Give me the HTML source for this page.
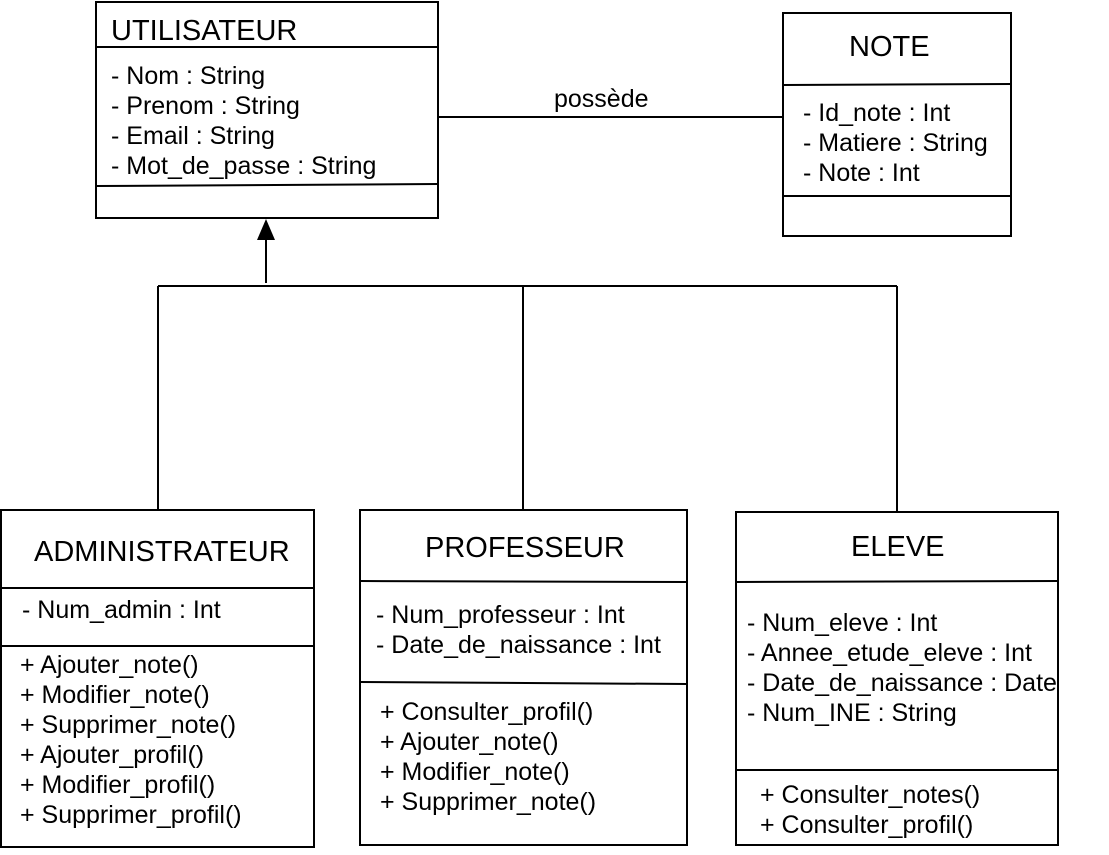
<!DOCTYPE html>
<html><head><meta charset="utf-8"><style>
html,body{margin:0;padding:0;background:#fff;}
svg{display:block;}
text{font-family:"Liberation Sans",Arial,sans-serif;fill:#000;dominant-baseline:central;}
.a{font-size:25px;}
.t{font-size:29px;}
</style></head><body>
<svg width="1109" height="855" viewBox="0 0 1109 855" xmlns="http://www.w3.org/2000/svg">
<g fill="none" stroke="#000" stroke-width="2">
<rect x="96" y="2" width="342" height="216"/>
<line x1="96" y1="47" x2="438" y2="47"/>
<line x1="96" y1="186" x2="438" y2="184"/>
<rect x="783" y="13" width="228" height="223"/>
<line x1="783" y1="85" x2="1011" y2="84"/>
<line x1="783" y1="196" x2="1011" y2="196"/>
<line x1="438" y1="117" x2="783" y2="117"/>
<line x1="266" y1="238" x2="266" y2="283"/>
<line x1="158" y1="286" x2="897" y2="286"/>
<line x1="158" y1="286" x2="158" y2="510"/>
<line x1="523" y1="286" x2="523" y2="510"/>
<line x1="897" y1="286" x2="897" y2="512"/>
<rect x="1" y="510" width="313" height="337"/>
<line x1="1" y1="588" x2="314" y2="588"/>
<line x1="1" y1="646" x2="314" y2="646"/>
<rect x="360" y="510" width="327" height="335"/>
<line x1="360" y1="581" x2="687" y2="582"/>
<line x1="360" y1="682" x2="687" y2="684"/>
<rect x="736" y="512" width="322" height="333"/>
<line x1="736" y1="582" x2="1058" y2="581"/>
<line x1="736" y1="770" x2="1058" y2="770"/>
</g>
<polygon points="266,219 257,240 275,240" fill="#000"/>
<text class="t" x="111" y="31">UTILISATEUR</text>
<text class="a" x="111" y="76">- Nom : String</text>
<text class="a" x="111" y="106">- Prenom : String</text>
<text class="a" x="111" y="136">- Email : String</text>
<text class="a" x="111" y="166">- Mot_de_passe : String</text>
<text class="t" x="849" y="47">NOTE</text>
<text class="a" x="803" y="113">- Id_note : Int</text>
<text class="a" x="803" y="143">- Matiere : String</text>
<text class="a" x="803" y="173">- Note : Int</text>
<text class="a" x="554" y="99">possède</text>
<text class="t" x="34" y="552">ADMINISTRATEUR</text>
<text class="a" x="22" y="610">- Num_admin : Int</text>
<text class="a" x="20" y="665">+ Ajouter_note()</text>
<text class="a" x="20" y="695">+ Modifier_note()</text>
<text class="a" x="20" y="725">+ Supprimer_note()</text>
<text class="a" x="20" y="755">+ Ajouter_profil()</text>
<text class="a" x="20" y="785">+ Modifier_profil()</text>
<text class="a" x="20" y="815">+ Supprimer_profil()</text>
<text class="t" x="425" y="548">PROFESSEUR</text>
<text class="a" x="376" y="615">- Num_professeur : Int</text>
<text class="a" x="376" y="645">- Date_de_naissance : Int</text>
<text class="a" x="380" y="712">+ Consulter_profil()</text>
<text class="a" x="380" y="742">+ Ajouter_note()</text>
<text class="a" x="380" y="772">+ Modifier_note()</text>
<text class="a" x="380" y="802">+ Supprimer_note()</text>
<text class="t" x="851" y="547">ELEVE</text>
<text class="a" x="747" y="623">- Num_eleve : Int</text>
<text class="a" x="747" y="653">- Annee_etude_eleve : Int</text>
<text class="a" x="747" y="683">- Date_de_naissance : Date</text>
<text class="a" x="747" y="713">- Num_INE : String</text>
<text class="a" x="760" y="795">+ Consulter_notes()</text>
<text class="a" x="760" y="825">+ Consulter_profil()</text>
</svg>
</body></html>
